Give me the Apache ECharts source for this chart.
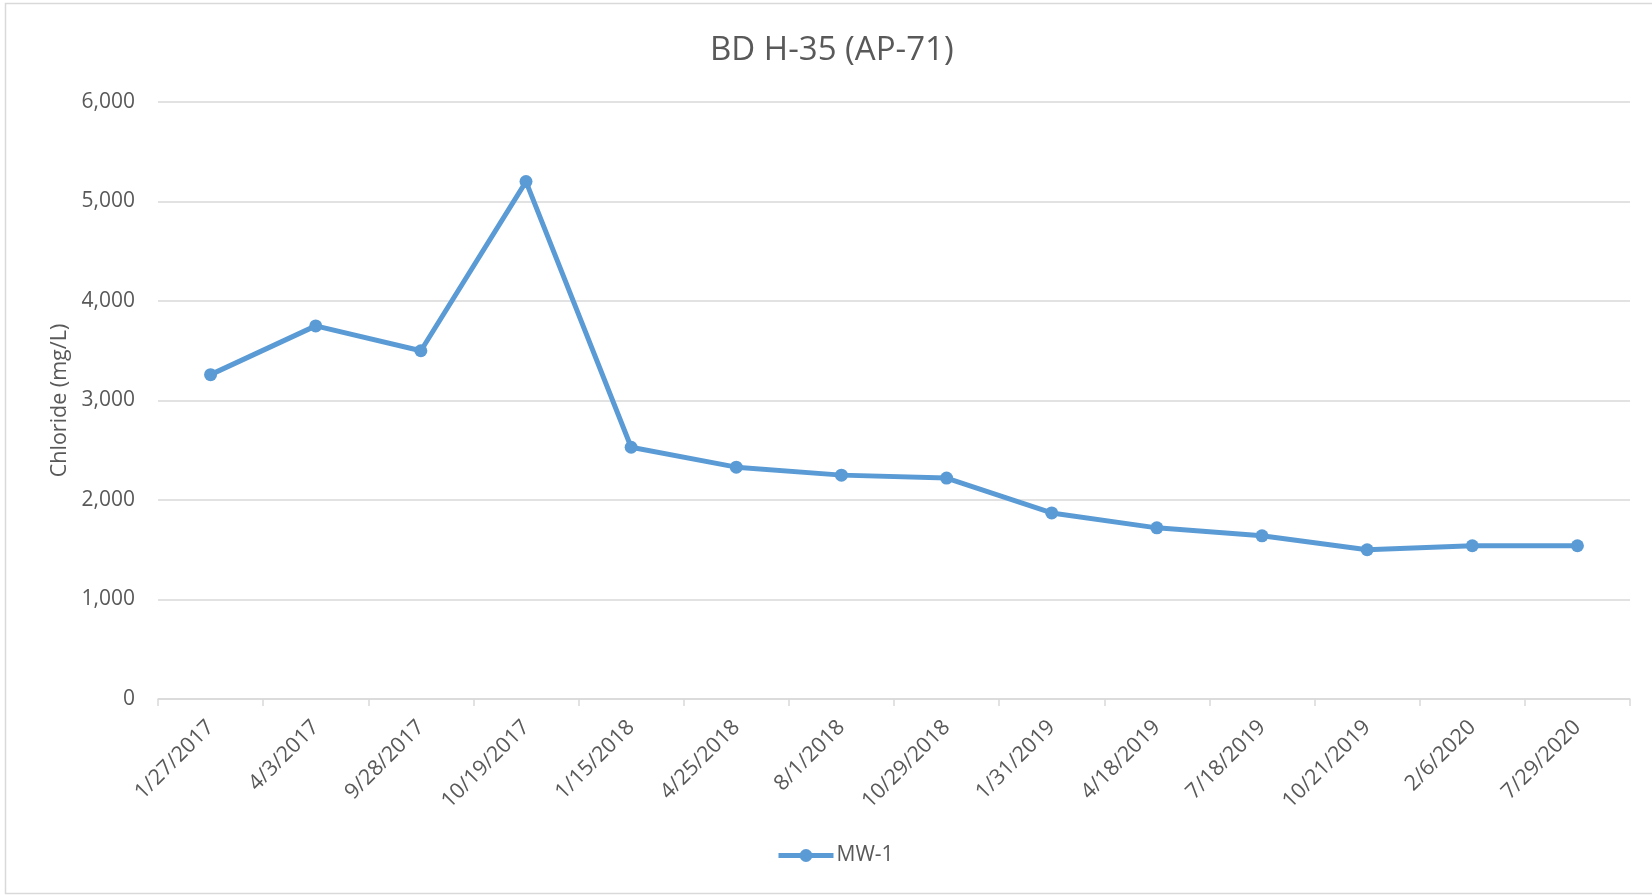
<!DOCTYPE html>
<html>
<head>
<meta charset="utf-8">
<script src="https://cdn.jsdelivr.net/npm/echarts@6/dist/echarts.min.js"></script>
<style>
html,body{margin:0;padding:0;background:#fff;}
#c{width:1652px;height:895px;}
</style>
</head>
<body>
<div id="c"></div>
<script>
const categories = ['1/27/2017','4/3/2017','9/28/2017','10/19/2017','1/15/2018','4/25/2018','8/1/2018','10/29/2018','1/31/2019','4/18/2019','7/18/2019','10/21/2019','2/6/2020','7/29/2020'];
const mw1 = [3260, 3750, 3500, 5200, 2530, 2330, 2250, 2220, 1870, 1720, 1640, 1500, 1540, 1540];
const seriesName = 'MW-1';
const titleText = 'BD H-35 (AP-71)';
const yAxisName = 'Chloride (mg/L)';

const FONT = '"Open Sans", sans-serif';
const TXT = '#595959';
const chart = echarts.init(document.getElementById('c'));
chart.setOption({
  animation: false,
  backgroundColor: '#fff',
  graphic: [{
    type: 'rect', shape: {x: 5.5, y: 3.5, width: 1660, height: 890},
    style: {fill: 'none', stroke: '#d9d9d9', lineWidth: 1.5}, silent: true
  }],
  title: {
    text: titleText, left: 710, top: 34, padding: 0,
    textStyle: {fontFamily: FONT, fontSize: 33, fontWeight: 'normal', color: TXT}
  },
  legend: {
    data: [seriesName], left: 776, top: 845, padding: 0,
    itemWidth: 55, itemHeight: 16, itemGap: 4,
    lineStyle: {width: 5},
    textStyle: {fontFamily: FONT, fontSize: 21, color: TXT, padding: [0,0,0,-2]}
  },
  grid: {left: 158, right: 22, top: 102, bottom: 196, containLabel: false},
  xAxis: {
    type: 'category', data: categories, boundaryGap: true,
    axisLine: {lineStyle: {color: '#d9d9d9', width: 1.5}},
    axisTick: {show: true, length: 7, lineStyle: {color: '#d9d9d9', width: 1.5}},
    axisLabel: {rotate: 45, margin: 25, fontFamily: FONT, fontSize: 21.5, color: TXT, interval: 0},
    splitLine: {show: false}
  },
  yAxis: {
    type: 'value', min: 0, max: 6000, interval: 1000,
    name: yAxisName, nameLocation: 'middle', nameGap: 87,
    nameTextStyle: {fontFamily: FONT, fontSize: 21.5, color: TXT},
    axisLine: {show: false}, axisTick: {show: false},
    axisLabel: {margin: 23, fontFamily: FONT, fontSize: 21, color: TXT,
      formatter: v => v.toLocaleString('en-US')},
    splitLine: {lineStyle: {color: '#d9d9d9', width: 1.5}}
  },
  series: [{
    name: seriesName, type: 'line', data: mw1,
    symbol: 'circle', symbolSize: 13,
    lineStyle: {color: '#5b9bd5', width: 5},
    itemStyle: {color: '#5b9bd5'}
  }]
});
</script>
</body>
</html>
